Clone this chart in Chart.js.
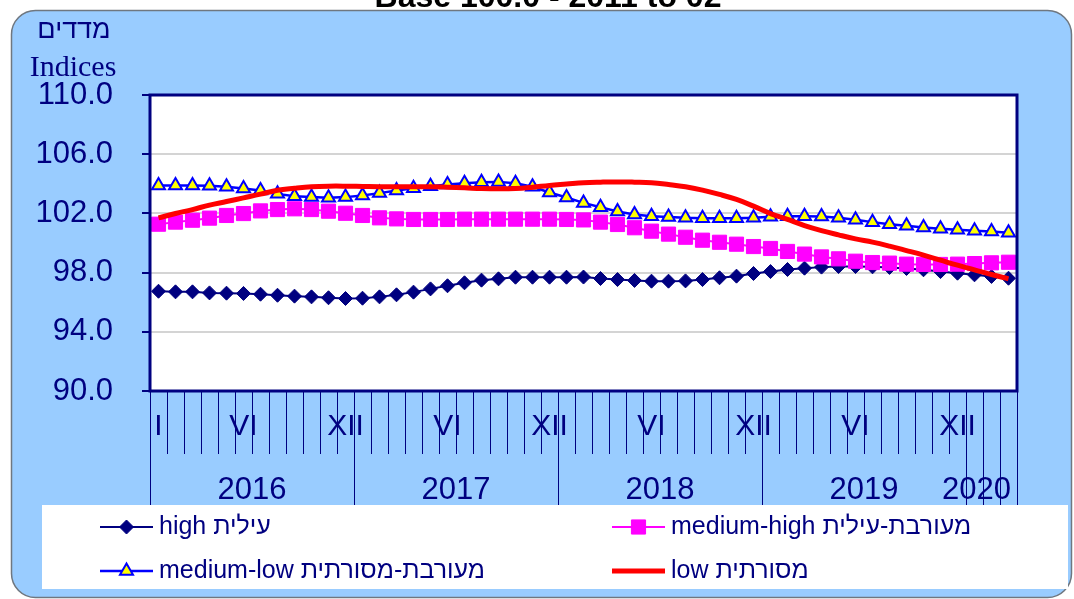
<!DOCTYPE html>
<html>
<head>
<meta charset="utf-8">
<style>
  html, body { margin:0; padding:0; background:#fff; overflow:hidden; }
  canvas { display:block; }
</style>
<script src="https://cdn.jsdelivr.net/npm/chart.js"></script>
</head>
<body>
<canvas id="chart" width="1074" height="599"></canvas>
<script>
// ---- data (monthly, I/2016 .. III/2020) ----
const years = ["2016", "2017", "2018", "2019", "2020"];
const monthsInYear = [12, 12, 12, 12, 3];
const romans = ["I","II","III","IV","V","VI","VII","VIII","IX","X","XI","XII"];
const labelledMonths = ["VI", "XII"];   // plus the very first "I"

const high = [96.74, 96.70, 96.70, 96.63, 96.61, 96.59, 96.54, 96.47, 96.41, 96.36, 96.30, 96.25,
              96.27, 96.36, 96.50, 96.68, 96.90, 97.11, 97.31, 97.49, 97.58, 97.69, 97.69, 97.69,
              97.69, 97.70, 97.60, 97.53, 97.47, 97.42, 97.42, 97.44, 97.53, 97.65, 97.76, 97.94,
              98.07, 98.21, 98.30, 98.37, 98.41, 98.41, 98.39, 98.35, 98.28, 98.19, 98.07, 97.96,
              97.85, 97.74, 97.62];
const mediumHigh = [101.27, 101.41, 101.54, 101.68, 101.86, 101.99, 102.17, 102.26, 102.31, 102.26, 102.15, 102.01,
                    101.86, 101.70, 101.63, 101.59, 101.59, 101.59, 101.61, 101.61, 101.61, 101.61, 101.61, 101.61,
                    101.59, 101.56, 101.41, 101.25, 101.03, 100.80, 100.60, 100.39, 100.19, 100.05, 99.92, 99.76,
                    99.63, 99.43, 99.25, 99.06, 98.93, 98.77, 98.68, 98.64, 98.57, 98.55, 98.55, 98.57,
                    98.61, 98.66, 98.70];
const mediumLow = [103.89, 103.89, 103.89, 103.86, 103.80, 103.68, 103.55, 103.32, 103.16, 103.10, 103.05, 103.10,
                   103.21, 103.37, 103.55, 103.70, 103.84, 103.95, 104.04, 104.11, 104.13, 104.04, 103.80, 103.41,
                   103.07, 102.71, 102.42, 102.13, 101.93, 101.81, 101.75, 101.70, 101.68, 101.68, 101.68, 101.70,
                   101.77, 101.81, 101.81, 101.79, 101.70, 101.57, 101.41, 101.27, 101.16, 101.05, 100.96, 100.89,
                   100.82, 100.78, 100.69];
const low = [101.70, 101.99, 102.26, 102.56, 102.80, 103.05, 103.30, 103.57, 103.70, 103.80, 103.84, 103.84,
             103.82, 103.80, 103.80, 103.80, 103.80, 103.77, 103.73, 103.68, 103.66, 103.68, 103.77, 103.89,
             103.98, 104.07, 104.11, 104.13, 104.11, 104.07, 103.95, 103.80, 103.57, 103.28, 102.94, 102.49,
             101.99, 101.59, 101.18, 100.84, 100.55, 100.28, 100.06, 99.79, 99.49, 99.18, 98.84, 98.50,
             98.19, 97.87, 97.58];

const seriesNames = ["high עילית", "medium-high מעורבת-עילית", "medium-low מעורבת-מסורתית", "low מסורתית"];
const axisTitleHe = "מדדים";
const axisTitleEn = "Indices";
const baseNote = "Base 100.0 - 2011 to 02";

// ---- derived category list ----
const categories = [];
const yearOf = [];
years.forEach((y, yi) => {
  for (let m = 0; m < monthsInYear[yi]; m++) { categories.push(romans[m]); yearOf.push(yi); }
});

const NAVY = "#000080";
const FONT = '"Liberation Sans", Arial, sans-serif';

function roundRect(ctx, x, y, w, h, r){
  ctx.beginPath();
  ctx.moveTo(x + r, y);
  ctx.arcTo(x + w, y, x + w, y + h, r);
  ctx.arcTo(x + w, y + h, x, y + h, r);
  ctx.arcTo(x, y + h, x, y, r);
  ctx.arcTo(x, y, x + w, y, r);
  ctx.closePath();
}

const frame = {
  id: "frame",
  beforeDraw(chart){
    const { ctx, width, height, chartArea:a } = chart;
    ctx.save();
    ctx.fillStyle = "#fff";
    ctx.fillRect(0, 0, width, height);
    // cut-off note above the panel
    ctx.fillStyle = "#000";
    ctx.font = "bold 32px " + FONT;
    ctx.textAlign = "center";
    ctx.textBaseline = "alphabetic";
    ctx.fillText(baseNote, 548, 7);
    // blue panel
    roundRect(ctx, 11.5, 10.5, 1060, 587, 24);
    ctx.fillStyle = "#99CCFF";
    ctx.fill();
    ctx.strokeStyle = "#6f7780";
    ctx.lineWidth = 1.5;
    ctx.stroke();
    // plot background
    ctx.fillStyle = "#fff";
    ctx.fillRect(a.left, a.top, a.right - a.left, a.bottom - a.top);
    ctx.restore();
  },
  afterDraw(chart){
    const { ctx, chartArea:a } = chart;
    const xs = chart.scales.x;
    const n = categories.length;
    ctx.save();

    // plot border
    ctx.strokeStyle = NAVY;
    ctx.lineWidth = 3;
    ctx.strokeRect(a.left, a.top, a.right - a.left, a.bottom - a.top);

    // month / year separators below the plot
    const bounds = [];
    for (let i = 0; i <= n; i++){
      if (i === 0) bounds.push(a.left);
      else if (i === n) bounds.push(a.right);
      else bounds.push((xs.getPixelForValue(i - 1) + xs.getPixelForValue(i)) / 2);
    }
    ctx.lineWidth = 1;
    ctx.strokeStyle = NAVY;
    const lastYear = years.length - 1;
    for (let i = 0; i <= n; i++){
      const yearEdge = i === 0 || i === n || yearOf[i] !== yearOf[i - 1];
      const inLast = i > 0 && yearOf[i - 1] === lastYear;
      const bottom = (yearEdge || inLast) ? 505 : 454;
      const x = Math.round(bounds[i]) + 0.5;
      ctx.beginPath(); ctx.moveTo(x, a.bottom); ctx.lineTo(x, bottom); ctx.stroke();
    }

    // year labels
    ctx.fillStyle = NAVY;
    ctx.font = "31px " + FONT;
    ctx.textAlign = "center";
    ctx.textBaseline = "middle";
    let start = 0;
    years.forEach((y, yi) => {
      const end = start + monthsInYear[yi];
      let cx = (bounds[start] + bounds[end]) / 2;
      const w = ctx.measureText(y).width;
      if (cx + w / 2 > a.right - 6) cx = a.right - 6 - w / 2;
      ctx.fillText(y, cx, 490);
      start = end;
    });

    // axis titles
    ctx.font = "27px " + FONT;
    ctx.fillText(axisTitleHe, 74, 31);
    ctx.font = '30px "Liberation Serif", "Times New Roman", serif';
    ctx.fillText(axisTitleEn, 73, 68);

    // legend
    ctx.fillStyle = "#fff";
    ctx.fillRect(42, 505, 1026, 84);
    const cols = [100, 612], rows = [527, 571];
    chart.data.datasets.forEach((ds, i) => {
      const x0 = cols[i % 2], y0 = rows[Math.floor(i / 2)];
      ctx.strokeStyle = ds.borderColor;
      ctx.lineWidth = ds.borderWidth;
      ctx.beginPath(); ctx.moveTo(x0, y0); ctx.lineTo(x0 + 53, y0); ctx.stroke();
      if (ds.pointRadius > 0){
        ctx.fillStyle = ds.pointBackgroundColor;
        ctx.strokeStyle = ds.pointBorderColor;
        ctx.lineWidth = ds.pointBorderWidth;
        Chart.helpers.drawPoint(ctx, { pointStyle: ds.pointStyle, radius: ds.pointRadius, rotation: 0, borderWidth: ds.pointBorderWidth }, x0 + 26.5, y0);
      }
      ctx.fillStyle = NAVY;
      ctx.font = "25px " + FONT;
      ctx.textAlign = "left";
      ctx.textBaseline = "middle";
      ctx.fillText(ds.label, x0 + 59, y0);
    });
    ctx.restore();
  }
};

new Chart(document.getElementById("chart"), {
  type: "line",
  data: {
    labels: categories,
    datasets: [
      { label: seriesNames[0], data: high, order: 3,
        borderColor: NAVY, borderWidth: 2, pointStyle: "rectRot", pointRadius: 7,
        pointBackgroundColor: NAVY, pointBorderColor: NAVY, pointBorderWidth: 1, tension: 0 },
      { label: seriesNames[1], data: mediumHigh, order: 2,
        borderColor: "#FF00FF", borderWidth: 2, pointStyle: "rect", pointRadius: 10,
        pointBackgroundColor: "#FF00FF", pointBorderColor: "#FF00FF", pointBorderWidth: 1, tension: 0 },
      { label: seriesNames[2], data: mediumLow, order: 1,
        borderColor: "#0000FF", borderWidth: 2.5, pointStyle: "triangle", pointRadius: 7.5,
        pointBackgroundColor: "#FFFF00", pointBorderColor: "#0000FF", pointBorderWidth: 2, tension: 0 },
      { label: seriesNames[3], data: low, order: 0,
        borderColor: "#FF0000", borderWidth: 5, pointRadius: 0, tension: 0.4 }
    ]
  },
  options: {
    responsive: false,
    animation: false,
    devicePixelRatio: 1,
    events: [],
    layout: { padding: { left: 0, top: 95, right: 57, bottom: 148 } },
    plugins: { legend: { display: false }, tooltip: { enabled: false } },
    scales: {
      x: {
        offset: true,
        grid: { display: false, drawTicks: false },
        border: { display: false },
        afterFit: s => { s.height = 60; },
        ticks: {
          autoSkip: false, maxRotation: 0, padding: 18,
          color: NAVY, font: { family: FONT, size: 30 },
          callback: (v, i) => (i === 0 || labelledMonths.includes(categories[i])) ? categories[i] : ""
        }
      },
      y: {
        min: 90, max: 110,
        afterFit: s => { s.width = 150; },
        grid: { color: "#d4d4d4", lineWidth: 2, tickColor: NAVY, tickLength: 8, tickWidth: 2 },
        border: { display: false },
        ticks: { stepSize: 4, padding: 29, color: NAVY, font: { family: FONT, size: 31 },
                 callback: v => v.toFixed(1) }
      }
    }
  },
  plugins: [frame]
});
</script>
</body>
</html>
